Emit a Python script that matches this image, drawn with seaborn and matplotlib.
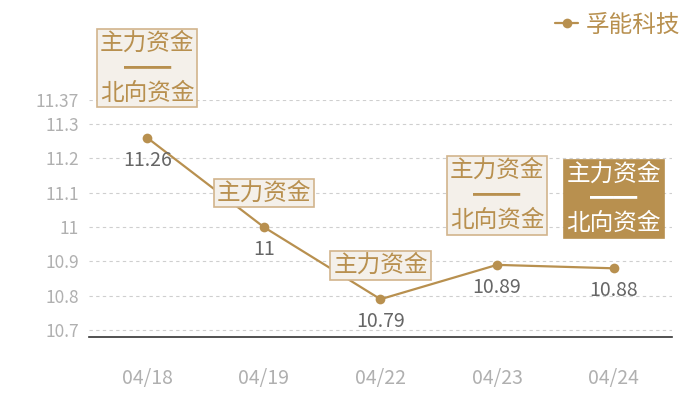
import pandas as pd
import matplotlib.pyplot as plt
import seaborn as sns
import numpy as np

dates = ['04/18', '04/19', '04/22', '04/23', '04/24']
prices = [11.26, 11.00, 10.79, 10.89, 10.88]
price_labels = ['11.26', '11', '10.79', '10.89', '10.88']
flow_tags = ['主力资金\n━━\n北向资金', '主力资金', '主力资金', '主力资金\n━━\n北向资金', '主力资金\n━━\n北向资金']
highlight = [False, False, False, False, True]
y_ticks = [10.7, 10.8, 10.9, 11.0, 11.1, 11.2, 11.3, 11.37]
y_tick_labels = ['10.7', '10.8', '10.9', '11', '11.1', '11.2', '11.3', '11.37']
series_name = '孚能科技'

gold = '#b8904f'
sns.set_style('white')
plt.rcParams['font.family'] = ['Noto Sans CJK SC', 'DejaVu Sans']

df = pd.DataFrame({'date': dates, 'price': prices})
df['x'] = np.arange(len(df))

fig = plt.figure(figsize=(7, 4), dpi=100, facecolor='w')
ax = fig.add_axes([0.127, 0.1575, 0.833, 0.5925])
sns.lineplot(data=df, x='x', y='price', ax=ax, color=gold, marker='o', markersize=7,
             markeredgewidth=0, linewidth=1.6, label=series_name)

ax.set_xlim(-0.5, len(df) - 0.5)
ax.set_ylim(10.68, 11.37)
ax.set_xticks(df['x'])
ax.set_xticklabels(dates)
ax.set_yticks(y_ticks)
ax.set_yticklabels(y_tick_labels)
ax.set_xlabel('')
ax.set_ylabel('')
ax.tick_params(axis='both', length=0, labelcolor='#b0b0b0')
ax.tick_params(axis='x', pad=22, labelsize=14)
ax.tick_params(axis='y', pad=7, labelsize=12.5)
for t in y_ticks:
    ax.axhline(t, color='#cfcfcf', linewidth=0.8, linestyle=(0, (3, 3)), zorder=0)
for s in ['top', 'right', 'left']:
    ax.spines[s].set_visible(False)
ax.spines['bottom'].set_color('#333333')
ax.spines['bottom'].set_linewidth(1.2)

for i, row in df.iterrows():
    ax.annotate(price_labels[i], (row['x'], row['price']), xytext=(0, -16),
                textcoords='offset points', ha='center', va='center',
                fontsize=14, color='#666666')
    two_line = '\n' in flow_tags[i]
    dy = 50 if two_line else 24.5
    if highlight[i]:
        fc, ec, tc = gold, gold, 'white'
    else:
        fc, ec, tc = '#f4f0ea', '#d2b48c', gold
    ax.annotate(flow_tags[i], (row['x'], row['price']), xytext=(0, dy),
                textcoords='offset points', ha='center', va='center',
                fontsize=17, color=tc, linespacing=1.1, multialignment='center',
                annotation_clip=False,
                bbox=dict(boxstyle='square,pad=0.12', fc=fc, ec=ec, lw=1.2))

leg = ax.legend(loc='upper right', bbox_to_anchor=(0.985, 0.99), bbox_transform=fig.transFigure,
                frameon=False, fontsize=17, handlelength=1.0, handletextpad=0.3,
                borderaxespad=0)
for t in leg.get_texts():
    t.set_color(gold)

fig.savefig('out.png', dpi=100, facecolor='w')
